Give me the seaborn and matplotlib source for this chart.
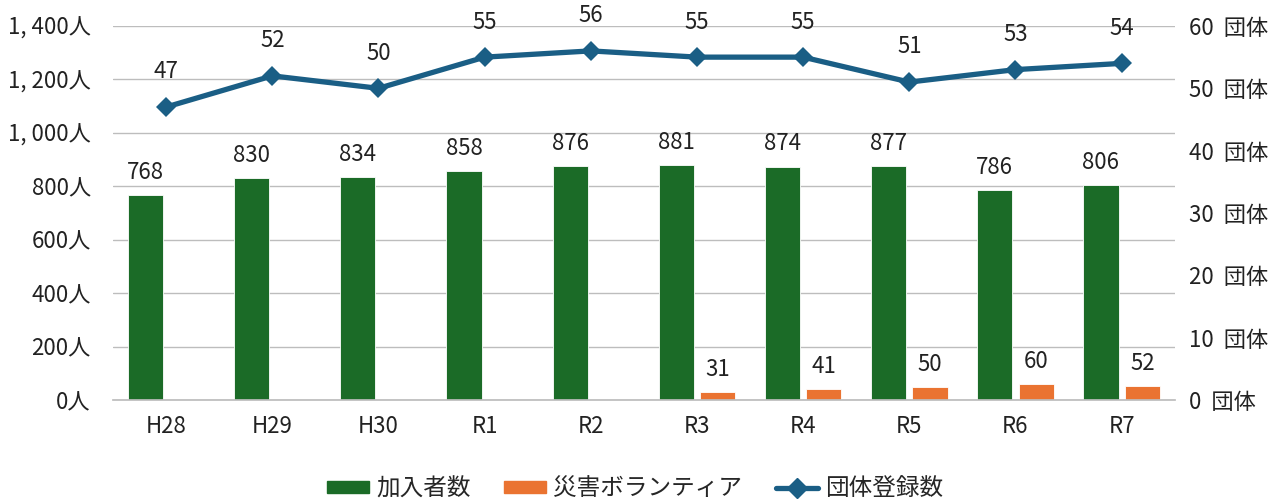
import pandas as pd
import seaborn as sns
import matplotlib.pyplot as plt
from matplotlib.ticker import FuncFormatter
from matplotlib.lines import Line2D
from matplotlib.patches import Patch
import numpy as np

# Data
years = ["H28", "H29", "H30", "R1", "R2", "R3", "R4", "R5", "R6", "R7"]
members = [768, 830, 834, 858, 876, 881, 874, 877, 786, 806]
disaster_vol = [np.nan, np.nan, np.nan, np.nan, np.nan, 31, 41, 50, 60, 52]
groups = [47, 52, 50, 55, 56, 55, 55, 51, 53, 54]

green = "#1b6b27"
orange = "#ea7331"
blue = "#1a5e85"
fs = 16

sns.set_theme(style="white")
plt.rcParams['font.family'] = ['Noto Sans CJK JP', 'DejaVu Sans']

df = pd.DataFrame({"year": years * 2,
                   "value": members + disaster_vol,
                   "series": ["加入者数"] * 10 + ["災害ボランティア"] * 10})

fig = plt.figure(figsize=(12.7, 4.99), dpi=100)
ax = fig.add_axes([0.089, 0.198, 0.836, 0.750])

sns.barplot(data=df, x="year", y="value", hue="series", order=years,
            palette=[green, orange], saturation=1, width=0.78, gap=0.15, dodge=True,
            edgecolor="white", linewidth=0.6, legend=False, ax=ax)

for cont in ax.containers:
    ax.bar_label(cont, fmt="%d", padding=8, fontsize=fs, color="#222222")

ax.set_ylim(0, 1400)
ax.set_yticks(range(0, 1401, 200))
ax.yaxis.set_major_formatter(FuncFormatter(lambda v, p: f"{int(v):,}人".replace(",", ", ")))
ax.set_xlim(-0.5, len(years) - 0.5)
ax.set_xlabel("")
ax.set_ylabel("")
ax.grid(axis="y", color="#bdbdbd", linewidth=1)
ax.set_axisbelow(True)
for s in ["top", "left", "right"]:
    ax.spines[s].set_visible(False)
ax.spines["bottom"].set_color("#bdbdbd")
ax.tick_params(axis="both", labelsize=fs, colors="#222222", length=0)
ax.tick_params(axis="x", pad=11)
ax.tick_params(axis="y", pad=16)

# Secondary axis for group count
ax2 = ax.twinx()
sns.lineplot(x=np.arange(len(years)), y=groups, color=blue, marker="D",
             markersize=10, linewidth=3.8, markeredgewidth=0, ax=ax2)
ax2.set_ylim(0, 60)
ax2.set_yticks(range(0, 61, 10))
ax2.yaxis.set_major_formatter(FuncFormatter(lambda v, p: f"{int(v)}  団体"))
ax2.tick_params(axis="y", labelsize=fs, colors="#222222", length=0, pad=10)
for s in ax2.spines.values():
    s.set_visible(False)
ax2.grid(False)
for i, g in enumerate(groups):
    ax2.annotate(str(g), (i, g), xytext=(0, 17), textcoords="offset points",
                 ha="center", va="bottom", fontsize=fs, color="#222222")

handles = [Patch(color=green, label="加入者数"),
           Patch(color=orange, label="災害ボランティア"),
           Line2D([], [], color=blue, marker="D", markersize=10, linewidth=3.8, label="団体登録数")]
fig.legend(handles=handles, loc="lower center", bbox_to_anchor=(0.5, -0.045), ncol=3,
           frameon=False, fontsize=fs + 1, handlelength=1.8, handleheight=0.4,
           columnspacing=1.4, handletextpad=0.3)

fig.savefig("out.png", dpi=100)
